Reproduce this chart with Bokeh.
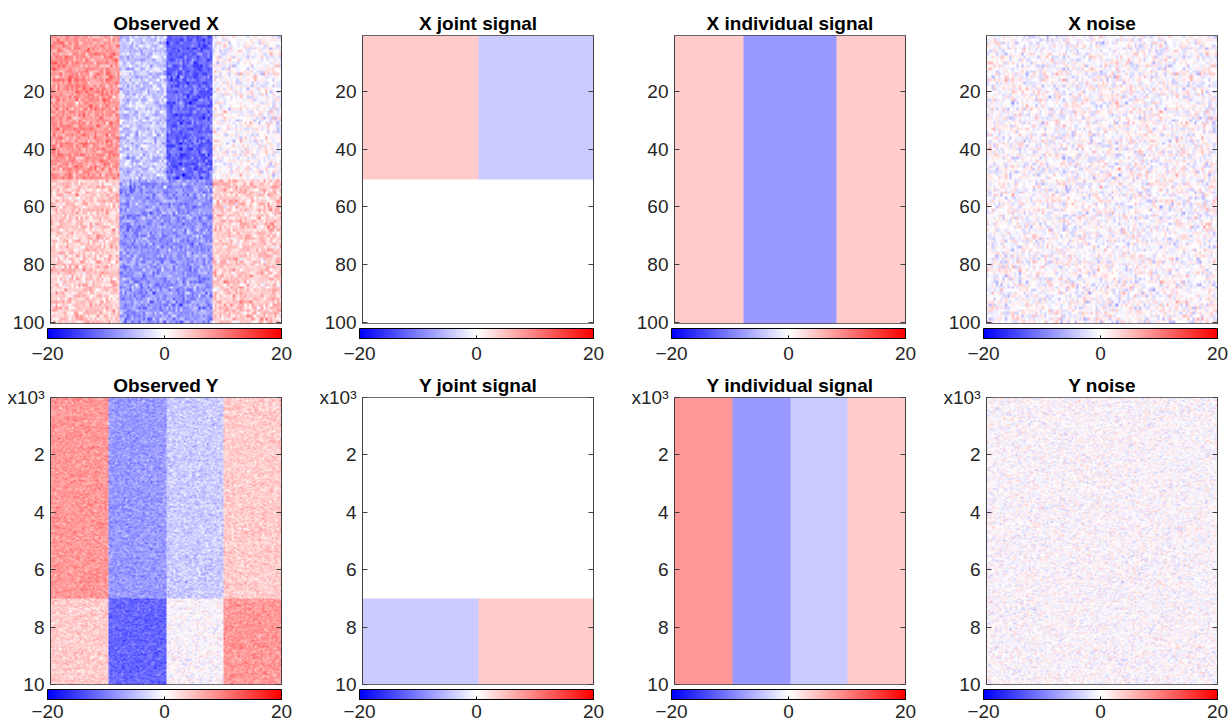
import numpy as np
from bokeh.plotting import figure
from bokeh.models import (LinearColorMapper, ColorBar, FixedTicker, Range1d,
                          LinearAxis)
from bokeh.layouts import gridplot
from bokeh.embed import file_html
from bokeh.resources import INLINE

# ---------------- data ----------------
TITLES_X = ["Observed X", "X joint signal", "X individual signal", "X noise"]
TITLES_Y = ["Observed Y", "Y joint signal", "Y individual signal", "Y noise"]

X_ROWS = 100
X_COLS = 100
X_JOINT_ROWS = [0, 50]            # joint signal present in rows 1-50
X_JOINT_COL_EDGES = [0, 50, 100]
X_JOINT_VALUES = [4, -4]
X_INDIV_COL_EDGES = [0, 30, 70, 100]
X_INDIV_VALUES = [4, -8, 4]
X_NOISE_SD = 2.2
X_TICKS = [20, 40, 60, 80, 100]

Y_ROWS_THOUSANDS = 10             # 10 000 rows, axis in units of 10^3
Y_DISPLAY_ROWS = 300
Y_COLS = 120
Y_JOINT_ROWS_THOUSANDS = [7, 10]  # joint signal present in rows 7001-10000
Y_JOINT_COL_EDGES = [0, 60, 120]
Y_JOINT_VALUES = [-4, 4]
Y_INDIV_COL_EDGES = [0, 30, 60, 90, 120]
Y_INDIV_VALUES = [8, -8, -4, 4]
Y_NOISE_SD = 1.8
Y_TICKS = [0, 2, 4, 6, 8, 10]
Y_TICK_LABELS = {0: "x10³"}

CBAR_LOW, CBAR_HIGH = -20, 20
CBAR_TICKS = [-20, 0, 20]

FONT = "Liberation Sans"
AXCOL = "#404040"


def block_matrix(nrows, ncols, row_span, col_edges, values):
    m = np.zeros((nrows, ncols))
    r0, r1 = row_span
    for c0, c1, v in zip(col_edges[:-1], col_edges[1:], values):
        m[r0:r1, c0:c1] = v
    return m


rng = np.random.default_rng(7)
xj = block_matrix(X_ROWS, X_COLS, X_JOINT_ROWS, X_JOINT_COL_EDGES, X_JOINT_VALUES)
xi = block_matrix(X_ROWS, X_COLS, [0, X_ROWS], X_INDIV_COL_EDGES, X_INDIV_VALUES)
xn = rng.normal(0, X_NOISE_SD, (X_ROWS, X_COLS))
X_MATS = [xj + xi + xn, xj, xi, xn]

rs = Y_DISPLAY_ROWS / Y_ROWS_THOUSANDS
yj = block_matrix(Y_DISPLAY_ROWS, Y_COLS,
                  [int(Y_JOINT_ROWS_THOUSANDS[0] * rs), int(Y_JOINT_ROWS_THOUSANDS[1] * rs)],
                  Y_JOINT_COL_EDGES, Y_JOINT_VALUES)
yi = block_matrix(Y_DISPLAY_ROWS, Y_COLS, [0, Y_DISPLAY_ROWS], Y_INDIV_COL_EDGES, Y_INDIV_VALUES)
yn = rng.normal(0, Y_NOISE_SD, (Y_DISPLAY_ROWS, Y_COLS))
Y_MATS = [yj + yi + yn, yj, yi, yn]

# blue - white - red palette
n = 128
blue_half = ["#%02x%02x%02x" % (int(255 * k / n), int(255 * k / n), 255) for k in range(n)]
red_half = ["#%02x%02x%02x" % (255, int(255 * (1 - k / n)), int(255 * (1 - k / n))) for k in range(1, n + 1)]
PALETTE = blue_half + ["#ffffff"] + red_half
mapper = LinearColorMapper(palette=PALETTE, low=CBAR_LOW, high=CBAR_HIGH)

COL_W = [312, 312, 312, 293]
RIGHT_B = [31, 31, 31, 12]
ROW_H = [363, 357]
TOP_B = [35, 34]
BOTTOM_B = [40, 35]
CB_STANDOFF = [8, 5]


def panel(mat, title, col, row, is_y):
    ncols = mat.shape[1]
    if is_y:
        y0, y1 = 0.0, float(Y_ROWS_THOUSANDS)
        ticks = Y_TICKS
    else:
        y0, y1 = 0.5, X_ROWS + 0.5
        ticks = X_TICKS
    p = figure(width=COL_W[col], height=ROW_H[row], output_backend="svg",
               toolbar_location=None, x_axis_type=None, y_axis_type=None,
               x_range=Range1d(0.5, ncols + 0.5), y_range=Range1d(y1, y0),
               min_border_left=50, min_border_right=RIGHT_B[col],
               min_border_top=TOP_B[row], min_border_bottom=BOTTOM_B[row],
               title=title)
    p.title.align = "center"
    p.title.text_font = FONT
    p.title.text_font_size = "19px"
    p.title.text_font_style = "bold"
    p.title.text_color = "black"
    p.title.standoff = 3
    p.outline_line_color = AXCOL
    p.outline_line_width = 1
    p.background_fill_color = "white"
    p.border_fill_color = "white"
    p.image(image=[mat], x=0.5, y=y0, dw=ncols, dh=y1 - y0, color_mapper=mapper)

    left = LinearAxis(ticker=FixedTicker(ticks=ticks))
    right = LinearAxis(ticker=FixedTicker(ticks=ticks))
    for ax in (left, right):
        ax.major_tick_in = 5
        ax.major_tick_out = 0
        ax.minor_tick_line_color = None
        ax.axis_line_color = AXCOL
        ax.major_tick_line_color = AXCOL
        ax.major_label_text_font = FONT
        ax.major_label_text_font_size = "19px"
        ax.major_label_text_color = "#262626"
        ax.major_label_standoff = 6
    if is_y:
        left.major_label_overrides = Y_TICK_LABELS
    right.major_label_text_color = None
    right.major_label_text_font_size = "1px"
    p.add_layout(left, "left")
    p.add_layout(right, "right")

    cb = ColorBar(color_mapper=mapper, orientation="horizontal",
                  width=234, height=10, padding=0, margin=0,
                  title=" ", title_text_font_size="1px", title_standoff=2,
                  ticker=FixedTicker(ticks=CBAR_TICKS),
                  major_label_text_font=FONT, major_label_text_font_size="19px",
                  major_label_text_color="#262626",
                  bar_line_color="black", bar_line_width=1,
                  major_tick_line_color="black", major_tick_in=3, major_tick_out=0,
                  minor_tick_line_color=None, label_standoff=CB_STANDOFF[row],
                  background_fill_alpha=0, border_line_color=None)
    p.add_layout(cb, "below")
    return p


rows = [[panel(m, t, c, 0, False) for c, (m, t) in enumerate(zip(X_MATS, TITLES_X))],
        [panel(m, t, c, 1, True) for c, (m, t) in enumerate(zip(Y_MATS, TITLES_Y))]]

layout = gridplot(rows, toolbar_location=None)
html = file_html(layout, INLINE)
html = html.replace("<head>", "<head><style>html,body{margin:0;padding:0;background:white;}</style>", 1)
open("out.html", "w").write(html)
